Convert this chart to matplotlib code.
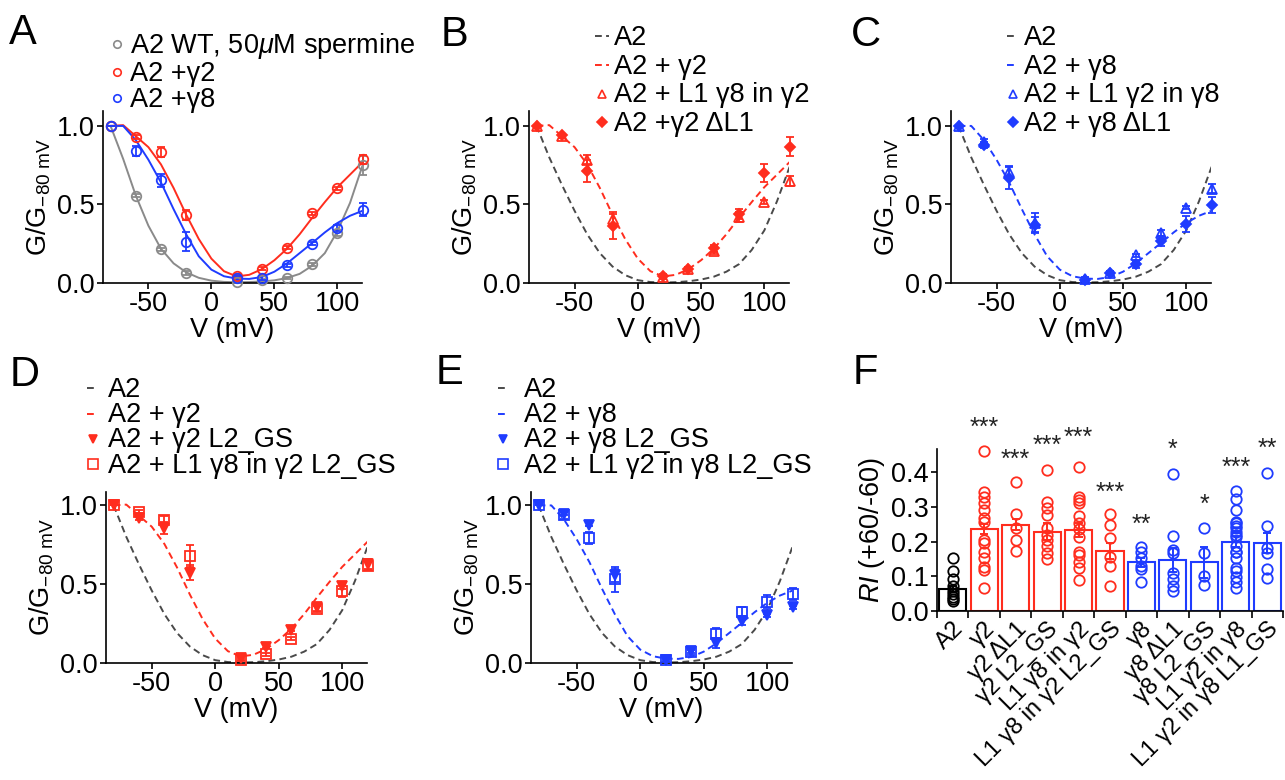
import numpy as np
import matplotlib
matplotlib.use('Agg')
import matplotlib.pyplot as plt
from matplotlib.lines import Line2D

plt.rcParams['font.family'] = ['Liberation Sans', 'DejaVu Sans']
plt.rcParams['mathtext.fontset'] = 'custom'
plt.rcParams['mathtext.rm'] = 'Liberation Sans'
plt.rcParams['mathtext.it'] = 'Liberation Sans:italic'
plt.rcParams['mathtext.bf'] = 'Liberation Sans:bold'
plt.rcParams['axes.unicode_minus'] = False

RED = '#ff2d1e'
BLUE = '#1f3cff'
GRAY_A = '#8a8a8a'
GRAY_D = '#4a4a4a'

# ---------------- data: G/G-80 mV vs V ----------------
V = [-80, -60, -40, -20, 20, 40, 60, 80, 100, 120]

# Panel A
wt_sperm = [1.0, 0.557, 0.214, 0.064, 0.004, 0.02, 0.032, 0.118, 0.32, 0.75]
wt_sperm_err = [0, 0.01, 0.01, 0.01, 0.005, 0.005, 0.005, 0.01, 0.02, 0.06]
a2_g2 = [1.0, 0.93, 0.835, 0.433, 0.047, 0.092, 0.225, 0.445, 0.604, 0.788]
a2_g2_err = [0, 0.015, 0.03, 0.03, 0.01, 0.01, 0.01, 0.01, 0.01, 0.03]
a2_g8 = [1.0, 0.84, 0.653, 0.263, 0.032, 0.032, 0.113, 0.25, 0.35, 0.467]
a2_g8_err = [0, 0.03, 0.04, 0.06, 0.01, 0.01, 0.01, 0.01, 0.02, 0.04]

# Panel B
l1g8_in_g2 = [1.0, 0.935, 0.785, 0.41, 0.037, 0.086, 0.204, 0.42, 0.516, 0.65]
l1g8_in_g2_err = [0, 0.01, 0.03, 0.04, 0.01, 0.01, 0.02, 0.03, 0.01, 0.03]
g2_dl1 = [1.0, 0.94, 0.716, 0.36, 0.047, 0.09, 0.22, 0.44, 0.70, 0.867]
g2_dl1_err = [0, 0.01, 0.07, 0.08, 0.01, 0.01, 0.02, 0.03, 0.06, 0.06]

# Panel C
l1g2_in_g8 = [1.0, 0.895, 0.707, 0.385, 0.026, 0.064, 0.176, 0.317, 0.478, 0.60]
l1g2_in_g8_err = [0, 0.02, 0.04, 0.06, 0.01, 0.01, 0.01, 0.02, 0.01, 0.03]
g8_dl1 = [1.0, 0.88, 0.668, 0.368, 0.02, 0.064, 0.118, 0.268, 0.375, 0.497]
g8_dl1_err = [0, 0.02, 0.07, 0.05, 0.01, 0.01, 0.02, 0.03, 0.05, 0.05]

# Panel D
g2_l2gs = [1.0, 0.92, 0.857, 0.574, 0.032, 0.103, 0.21, 0.353, 0.488, 0.627]
g2_l2gs_err = [0, 0.01, 0.04, 0.05, 0.01, 0.01, 0.01, 0.02, 0.02, 0.03]
l1g8_in_g2_l2gs = [1.0, 0.96, 0.91, 0.68, 0.02, 0.054, 0.154, 0.343, 0.46, 0.617]
l1g8_in_g2_l2gs_err = [0, 0.01, 0.02, 0.07, 0.01, 0.01, 0.01, 0.02, 0.04, 0.03]

# Panel E
g8_l2gs = [1.0, 0.946, 0.878, 0.557, 0.02, 0.075, 0.128, 0.268, 0.304, 0.353]
g8_l2gs_err = [0, 0.01, 0.01, 0.04, 0.01, 0.01, 0.03, 0.03, 0.01, 0.01]
l1g2_in_g8_l2gs = [1.0, 0.936, 0.792, 0.531, 0.017, 0.068, 0.182, 0.325, 0.39, 0.439]
l1g2_in_g8_l2gs_err = [0, 0.02, 0.04, 0.08, 0.01, 0.02, 0.04, 0.03, 0.04, 0.04]

# Fitted curves
V_fit = [-80, -70, -60, -50, -40, -30, -20, -10, 0, 10, 20, 30, 40, 50, 60, 70, 80, 90, 100, 110, 120]
fit_wt_sperm = [1.0, 0.79, 0.557, 0.365, 0.218, 0.125, 0.068, 0.033, 0.015, 0.007, 0.005, 0.006,
                0.010, 0.017, 0.032, 0.058, 0.11, 0.19, 0.33, 0.51, 0.75]
fit_a2 = [1.0, 0.80, 0.625, 0.46, 0.31, 0.19, 0.105, 0.05, 0.018, 0.006, 0.003, 0.005,
          0.011, 0.022, 0.04, 0.072, 0.12, 0.21, 0.335, 0.52, 0.74]
fit_g2 = [1.0, 1.005, 0.935, 0.865, 0.755, 0.605, 0.435, 0.28, 0.155, 0.075, 0.042, 0.052,
          0.088, 0.145, 0.218, 0.31, 0.415, 0.515, 0.61, 0.69, 0.77]
fit_g8 = [1.0, 1.0, 0.91, 0.785, 0.64, 0.47, 0.31, 0.17, 0.085, 0.043, 0.028, 0.026,
          0.038, 0.072, 0.125, 0.19, 0.255, 0.322, 0.382, 0.428, 0.46]

# ---------------- data: panel F ----------------
groups = ['A2', 'γ2', 'γ2 ΔL1', 'γ2 L2_GS', 'L1 γ8 in γ2', 'L1 γ8 in γ2 L2_GS',
          'γ8', 'γ8 ΔL1', 'γ8 L2_GS', 'L1 γ2 in γ8', 'L1 γ2 in γ8 L1_GS']
ri_mean = [0.063, 0.236, 0.249, 0.229, 0.234, 0.172, 0.140, 0.148, 0.140, 0.200, 0.196]
ri_sem = [0.008, 0.015, 0.015, 0.025, 0.02, 0.023, 0.012, 0.035, 0.045, 0.015, 0.03]
ri_points = [
    [0.154, 0.115, 0.092, 0.072, 0.058, 0.048, 0.040, 0.034, 0.030],
    [0.462, 0.342, 0.328, 0.311, 0.291, 0.267, 0.258, 0.205, 0.195, 0.171, 0.152, 0.128, 0.118, 0.065],
    [0.373, 0.28, 0.238, 0.205, 0.174],
    [0.407, 0.315, 0.296, 0.277, 0.238, 0.219, 0.205, 0.186, 0.166, 0.150],
    [0.416, 0.328, 0.32, 0.311, 0.274, 0.255, 0.236, 0.214, 0.171, 0.162, 0.142, 0.123, 0.088],
    [0.28, 0.248, 0.21, 0.157, 0.13, 0.073],
    [0.184, 0.171, 0.152, 0.13, 0.12, 0.085],
    [0.394, 0.217, 0.176, 0.166, 0.109, 0.091, 0.072, 0.059],
    [0.24, 0.166, 0.101, 0.075],
    [0.347, 0.322, 0.291, 0.258, 0.253, 0.245, 0.238, 0.229, 0.22, 0.214, 0.186, 0.171, 0.17,
     0.152, 0.123, 0.115, 0.099, 0.085, 0.067],
    [0.397, 0.245, 0.181, 0.166, 0.12, 0.094],
]
ri_colors = ['black'] + [RED] * 5 + [BLUE] * 5
ri_stars = ['', '***', '***', '***', '***', '***', '**', '*', '*', '***', '**']
ri_star_y = [0, 0.527, 0.436, 0.476, 0.498, 0.341, 0.248, 0.464, 0.306, 0.414, 0.466]

# ---------------- figure ----------------
W, H = 1285, 780
fig = plt.figure(figsize=(W / 100, H / 100), dpi=100)

FS = 19.5


def px_ax(left, top, right, bottom):
    return fig.add_axes([left / W, 1 - bottom / H, (right - left) / W, (bottom - top) / H])


def style_iv(ax, ymax):
    ax.set_xlim(-86, 119.5)
    ax.set_ylim(0, ymax)
    for s in ['top', 'right']:
        ax.spines[s].set_visible(False)
    for s in ['left', 'bottom']:
        ax.spines[s].set_linewidth(1.2)
    ax.set_xticks([-50, 0, 50, 100])
    ax.set_yticks([0.0, 0.5, 1.0])
    ax.set_yticklabels(['0.0', '0.5', '1.0'])
    ax.tick_params(labelsize=FS, width=1.2, length=4, pad=2)
    ax.set_xlabel('V (mV)', fontsize=FS, labelpad=0)
    ax.set_ylabel(r'G/G$_{\mathregular{-80\ mV}}$', fontsize=FS, labelpad=3)


def pts(ax, y, err, color, marker, filled, ms=9.5):
    ax.errorbar(V, y, yerr=err, fmt=marker, color=color, ms=ms / 1.39,
                mfc=color if filled else 'none', mec=color, mew=1.3,
                elinewidth=1.3, capsize=3.2, capthick=1.3, clip_on=False, zorder=3)


def legend(ax, handles, labels, left_px, top_px, hl, pad, spacing):
    leg = ax.legend(handles, labels, loc='upper left',
                    bbox_to_anchor=(left_px / W, 1 - top_px / H), bbox_transform=fig.transFigure,
                    frameon=False, fontsize=FS, handlelength=hl, handletextpad=pad,
                    labelspacing=spacing, borderpad=0, borderaxespad=0, handleheight=0.5)
    return leg


def dline(color):
    return Line2D([], [], color=color, ls=(0, (3.5, 2.2)), lw=1.4)


def mk(color, marker, filled, ms=7.5):
    return Line2D([], [], ls='none', marker=marker, color=color, ms=ms / 1.39,
                  mfc=color if filled else 'none', mec=color, mew=1.2)


DASH = (0, (3.5, 2.2))

# ---- Panel A ----
axA = px_ax(103, 111, 362, 283)
style_iv(axA, 1.095)
axA.plot(V_fit, fit_wt_sperm, color=GRAY_A, lw=1.4, zorder=2)
axA.plot(V_fit, fit_g2, color=RED, lw=1.4, zorder=2)
axA.plot(V_fit, fit_g8, color=BLUE, lw=1.4, zorder=2)
pts(axA, wt_sperm, wt_sperm_err, GRAY_A, 'o', False)
pts(axA, a2_g2, a2_g2_err, RED, 'o', False)
pts(axA, a2_g8, a2_g8_err, BLUE, 'o', False)
legend(axA, [mk(GRAY_A, 'o', False), mk(RED, 'o', False), mk(BLUE, 'o', False)],
       [r'A2 WT, 50$\mu$M spermine', 'A2 +γ2', 'A2 +γ8'], 111, 31, 0.45, 0.27, 0.0)

# ---- Panel B ----
axB = px_ax(529, 111, 789, 283)
style_iv(axB, 1.095)
axB.plot(V_fit, fit_a2, color=GRAY_D, lw=1.4, ls=DASH, zorder=2)
axB.plot(V_fit, fit_g2, color=RED, lw=1.4, ls=DASH, zorder=2)
pts(axB, l1g8_in_g2, l1g8_in_g2_err, RED, '^', False)
pts(axB, g2_dl1, g2_dl1_err, RED, 'D', True, ms=7.5)
legend(axB, [dline(GRAY_D), dline(RED), mk(RED, '^', False), mk(RED, 'D', True, ms=6.5)],
       ['A2', 'A2 + γ2', 'A2 + L1 γ8 in γ2', 'A2 +γ2 ΔL1'], 595, 25, 0.5, 0.2, 0.1)

# ---- Panel C ----
axC = px_ax(951, 111, 1211, 283)
style_iv(axC, 1.095)
axC.plot(V_fit, fit_a2, color=GRAY_D, lw=1.4, ls=DASH, zorder=2)
axC.plot(V_fit, fit_g8, color=BLUE, lw=1.4, ls=DASH, zorder=2)
pts(axC, l1g2_in_g8, l1g2_in_g8_err, BLUE, '^', False)
pts(axC, g8_dl1, g8_dl1_err, BLUE, 'D', True, ms=7.5)
legend(axC, [dline(GRAY_D), dline(BLUE), mk(BLUE, '^', False), mk(BLUE, 'D', True, ms=6.5)],
       ['A2', 'A2 + γ8', 'A2 + L1 γ2 in γ8', 'A2 + γ8 ΔL1'], 1007, 25, 0.42, 0.2, 0.1)

# ---- Panel D ----
axD = px_ax(106, 492, 367, 663)
style_iv(axD, 1.085)
axD.plot(V_fit, fit_a2, color=GRAY_D, lw=1.4, ls=DASH, zorder=2)
axD.plot(V_fit, fit_g2, color=RED, lw=1.4, ls=DASH, zorder=2)
pts(axD, g2_l2gs, g2_l2gs_err, RED, 'v', True)
pts(axD, l1g8_in_g2_l2gs, l1g8_in_g2_l2gs_err, RED, 's', False)
legend(axD, [dline(GRAY_D), dline(RED), mk(RED, 'v', True), mk(RED, 's', False, ms=9.5)],
       ['A2', 'A2 + γ2', 'A2 + γ2 L2_GS', 'A2 + L1 γ8 in γ2 L2_GS'], 87, 377, 0.42, 0.36, -0.03)

# ---- Panel E ----
axE = px_ax(531, 492, 792, 663)
style_iv(axE, 1.085)
axE.plot(V_fit, fit_a2, color=GRAY_D, lw=1.4, ls=DASH, zorder=2)
axE.plot(V_fit, fit_g8, color=BLUE, lw=1.4, ls=DASH, zorder=2)
pts(axE, g8_l2gs, g8_l2gs_err, BLUE, 'v', True)
pts(axE, l1g2_in_g8_l2gs, l1g2_in_g8_l2gs_err, BLUE, 's', False)
legend(axE, [dline(GRAY_D), dline(BLUE), mk(BLUE, 'v', True), mk(BLUE, 's', False, ms=9.5)],
       ['A2', 'A2 + γ8', 'A2 + γ8 L2_GS', 'A2 + L1 γ2 in γ8 L2_GS'], 498, 377, 0.4, 0.55, -0.03)

# ---- Panel F ----
axF = px_ax(937, 449, 1283, 611)
xs = np.arange(len(groups))
for i in range(len(groups)):
    c = ri_colors[i]
    axF.bar(xs[i], ri_mean[i], width=0.86, facecolor='white', edgecolor=c, linewidth=1.5, zorder=2)
    axF.plot(np.full(len(ri_points[i]), xs[i]), ri_points[i], ls='none', marker='o',
             ms=7.5, mfc='none', mec=c, mew=1.3, zorder=3, clip_on=False)
    axF.errorbar(xs[i], ri_mean[i], yerr=ri_sem[i], fmt='none', ecolor=c, elinewidth=1.4,
                 capsize=3, capthick=1.4, zorder=4)
    if ri_stars[i]:
        axF.text(xs[i], ri_star_y[i], ri_stars[i], ha='center', va='center', fontsize=18,
                 color='#222222', clip_on=False)
axF.set_xlim(-0.5, 10.5)
axF.set_ylim(0, 0.467)
for s in ['top', 'right']:
    axF.spines[s].set_visible(False)
for s in ['left', 'bottom']:
    axF.spines[s].set_linewidth(1.2)
axF.set_yticks([0.0, 0.1, 0.2, 0.3, 0.4])
axF.set_yticklabels(['0.0', '0.1', '0.2', '0.3', '0.4'])
axF.set_xticks(xs)
axF.set_xticklabels(groups, rotation=45, ha='right', rotation_mode='anchor', fontsize=17)
axF.set_xticks(np.arange(-0.5, 11, 1.0), minor=True)
axF.tick_params(axis='x', which='major', length=0, pad=5)
axF.tick_params(axis='x', which='minor', length=5, width=1.2)
axF.tick_params(axis='y', labelsize=FS, width=1.2, length=4, pad=2)
axF.set_ylabel(r'$\mathit{RI}$ (+60/-60)', fontsize=FS, labelpad=3)

# panel letters
for letter, x, y in [('A', 9, 13), ('B', 441, 15), ('C', 851, 15),
                     ('D', 10, 355), ('E', 436, 353), ('F', 853, 353)]:
    fig.text(x / W, 1 - y / H, letter, fontsize=30, ha='left', va='top')

fig.savefig('out.png', dpi=100)
